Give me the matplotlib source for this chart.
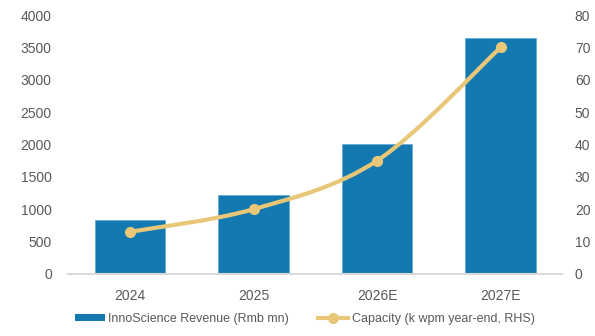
import matplotlib.pyplot as plt
from matplotlib.path import Path
from matplotlib.patches import PathPatch
from matplotlib.lines import Line2D
from matplotlib.patches import Patch

plt.rcParams['font.family'] = ['Liberation Sans', 'DejaVu Sans']

# data
years = ['2024', '2025', '2026E', '2027E']
revenue = [830, 1220, 2000, 3640]      # Rmb mn
capacity = [13, 20, 35, 70]            # k wpm year-end

bar_color = '#1479B0'
line_color = '#E8C878'
text_color = '#595959'

fig = plt.figure(figsize=(5.95, 3.36), dpi=100)
ax = fig.add_axes([0.115, 0.185, 0.83, 0.77])
ax2 = ax.twinx()

x = list(range(len(years)))
ax.bar(x, revenue, width=0.57, color=bar_color, edgecolor='#5FA8D3', linewidth=0.5, zorder=2)
ax.set_xlim(-0.5, len(years) - 0.5)
ax.set_ylim(0, 4000)
ax.set_yticks(range(0, 4001, 500))
ax.set_xticks(x)
ax.set_xticklabels(years)

ax2.set_ylim(0, 80)
ax2.set_yticks(range(0, 81, 10))

# smoothed capacity line (Catmull-Rom style bezier through the points)
pts = list(zip(x, capacity))
verts = [pts[0]]
codes = [Path.MOVETO]
t = 1 / 6
for i in range(len(pts) - 1):
    p0 = pts[i - 1] if i > 0 else pts[i]
    p1 = pts[i]
    p2 = pts[i + 1]
    p3 = pts[i + 2] if i + 2 < len(pts) else pts[i + 1]
    c1 = (p1[0] + (p2[0] - p0[0]) * t, p1[1] + (p2[1] - p0[1]) * t)
    c2 = (p2[0] - (p3[0] - p1[0]) * t, p2[1] - (p3[1] - p1[1]) * t)
    verts += [c1, c2, p2]
    codes += [Path.CURVE4] * 3
ax2.add_patch(PathPatch(Path(verts, codes), facecolor='none', edgecolor=line_color,
                        linewidth=3, capstyle='round', zorder=3))
ax2.plot(x, capacity, linestyle='none', marker='o', markersize=7,
         color=line_color, zorder=4)

for a in (ax, ax2):
    for s in a.spines.values():
        s.set_visible(False)
    a.tick_params(length=0, labelsize=10, colors=text_color)
ax.spines['bottom'].set_visible(True)
ax.spines['bottom'].set_color('#D9D9D9')
ax.spines['bottom'].set_linewidth(1.5)
ax.tick_params(axis='y', pad=12)
ax.tick_params(axis='x', pad=11)
ax2.tick_params(axis='y', pad=9)

handles = [
    Patch(facecolor=bar_color, edgecolor='none'),
    Line2D([0], [0], color=line_color, linewidth=3, marker='o', markersize=7),
]
labels = ['InnoScience Revenue (Rmb mn)', 'Capacity (k wpm year-end, RHS)']
fig.legend(handles, labels, loc='lower center', bbox_to_anchor=(0.512, 0.0), ncol=2,
           frameon=False, fontsize=9, labelcolor=text_color, handlelength=2.4,
           handleheight=0.5, handletextpad=0.3, columnspacing=2.3)

fig.savefig('out.png', dpi=100)
